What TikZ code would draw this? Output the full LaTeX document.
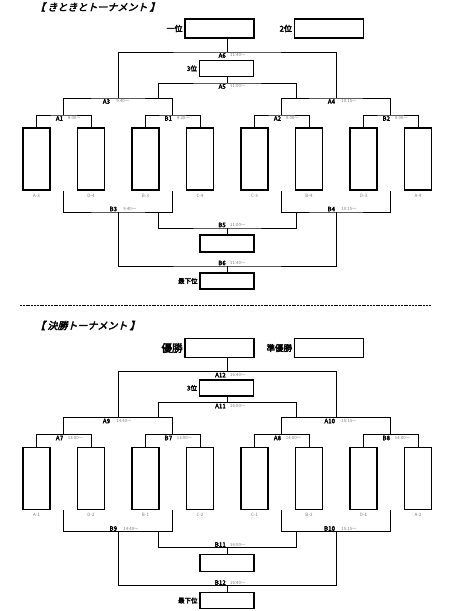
\documentclass[tikz,border=0pt]{standalone}
\usepackage{fontspec}
\setmainfont{Noto Sans CJK JP}
\newfontfamily\jpbold{Noto Sans CJK JP}[FakeBold=3]
\newfontfamily\jptitle{Noto Sans CJK JP}[FakeBold=3,FakeSlant=0.25]
\definecolor{TimeGray}{HTML}{7A7A7A}
\usetikzlibrary{positioning}
\tikzset{
  team/.style={draw, line width=1.5pt, minimum width=27pt, minimum height=62pt, inner sep=0pt},
  rank/.style={draw, line width=1.5pt, minimum width=69pt, minimum height=19pt, inner sep=0pt},
  subrank/.style={draw, line width=1.5pt, minimum width=54pt, minimum height=16pt, inner sep=0pt},
  link/.style={line width=0.7pt},
  mlab/.style={font=\jpbold\fontsize{6.2}{7}\selectfont, inner sep=0pt},
  tlab/.style={font=\fontsize{4.3}{5}\selectfont, text=TimeGray, inner sep=0pt},
  tname/.style={font=\fontsize{4.5}{5}\selectfont, text=TimeGray, inner sep=0pt},
  rlab/.style={font=\jpbold\fontsize{8}{9}\selectfont, inner sep=0pt},
  heading/.style={font=\jptitle\fontsize{10}{11}\selectfont, inner sep=0pt, anchor=west},
  separator/.style={line width=0.5pt, dash pattern=on 2pt off 0.8pt}
}

\begin{document}
\begin{tikzpicture}[x=1pt, y=-1pt]
  \useasboundingbox (0,0) rectangle (453,611);

  % --- upper bracket ---
  \node[heading] (ktitle) at (35,7) {【 きときとトーナメント 】};
  \node[rank] (kfirst) at (219.5,28.5) {};
  \node[rank] (ksecond) at (329,28.5) {};
  \node[rlab, left=1.5pt of kfirst] (kfirstl) {一位};
  \node[rlab, left=1.5pt of ksecond] (ksecondl) {2位};
  \node[subrank] (kthird) at (226.5,68.5) {};
  \node[rlab, font=\jpbold\fontsize{6.5}{7}\selectfont, left=1.5pt of kthird] (kthirdl) {3位};
  \foreach \i/\t in {1/A-3,2/D-4,3/B-3,4/C-4,5/C-3,6/B-4,7/D-3,8/A-4} {
    \node[team] (kt\i) at ({36.5+54.5*(\i-1)},159) {};
    \node[tname, below=3pt of kt\i] (kn\i) {\t};
  }
  \coordinate (ka1) at (63.75,115);
  \coordinate (kb1) at (172.75,115);
  \coordinate (ka2) at (281.75,115);
  \coordinate (kb2) at (390.75,115);
  \coordinate (ka3) at (118.25,98);
  \coordinate (ka4) at (336.25,98);
  \coordinate (ka5) at (227,83);
  \coordinate (ka6) at (227,52);
  \coordinate (kb3) at (118.25,212);
  \coordinate (kb4) at (336.25,212);
  \coordinate (kb5) at (227,228);
  \coordinate (kb6) at (227,266);
  \node[subrank, minimum height=17pt] (kfifth) at (227,243.5) {};
  \node[subrank] (klast) at (227,281) {};
  \node[rlab, font=\jpbold\fontsize{6.5}{7}\selectfont, left=1.5pt of klast] (klastl) {最下位};

  \draw[link] (kt1.north) |- (ka1) -| (kt2.north);
  \draw[link] (kt3.north) |- (kb1) -| (kt4.north);
  \draw[link] (kt5.north) |- (ka2) -| (kt6.north);
  \draw[link] (kt7.north) |- (kb2) -| (kt8.north);
  \draw[link] (ka1) |- (ka3) -| (kb1);
  \draw[link] (ka2) |- (ka4) -| (kb2);
  \draw[link] (ka3) |- (ka6) -| (ka4);
  \draw[link] (ka6) -- (kfirst.south -| ka6);
  \draw[link] ([xshift=40pt]ka3) |- (ka5) -| ([xshift=-40pt]ka4);
  \draw[link] (ka5) -- (kthird.south -| ka5);
  \draw[link] (ka1 |- kt1.south) |- (kb3) -| (kb1 |- kt1.south);
  \draw[link] (ka2 |- kt1.south) |- (kb4) -| (kb2 |- kt1.south);
  \draw[link] ([xshift=40pt]kb3) |- (kb5) -| ([xshift=-40pt]kb4);
  \draw[link] (kb5) -- (kfifth.north -| kb5);
  \draw[link] (kb3) |- (kb6) -| (kb4);
  \draw[link] (kb6) -- (klast.north -| kb6);

  \node[mlab, below left=1pt and 0.5pt of ka1] (ka1n) {A1};
  \node[tlab, below right=1.5pt and 4pt of ka1] (ka1m) {9:00〜};
  \node[mlab, below left=1pt and 0.5pt of kb1] (kb1n) {B1};
  \node[tlab, below right=1.5pt and 4pt of kb1] (kb1m) {9:20〜};
  \node[mlab, below left=1pt and 0.5pt of ka2] (ka2n) {A2};
  \node[tlab, below right=1.5pt and 4pt of ka2] (ka2m) {9:00〜};
  \node[mlab, below left=1pt and 0.5pt of kb2] (kb2n) {B2};
  \node[tlab, below right=1.5pt and 4pt of kb2] (kb2m) {9:00〜};
  \node[mlab, below left=1pt and 8pt of ka3] (ka3n) {A3};
  \node[tlab, below right=1.5pt and -2pt of ka3] (ka3m) {9:40〜};
  \node[mlab, below left=1pt and 1pt of ka4] (ka4n) {A4};
  \node[tlab, below right=1.5pt and 5pt of ka4] (ka4m) {10:15〜};
  \node[mlab, below left=1pt and 1pt of ka5] (ka5n) {A5};
  \node[tlab, below right=1.5pt and 3pt of ka5] (ka5m) {11:00〜};
  \node[mlab, below left=1pt and 1pt of ka6] (ka6n) {A6};
  \node[tlab, below right=1.5pt and 3pt of ka6] (ka6m) {11:40〜};
  \node[mlab, above left=0.5pt and 1pt of kb3] (kb3n) {B3};
  \node[tlab, above right=1pt and 5pt of kb3] (kb3m) {9:40〜};
  \node[mlab, above left=0.5pt and 1pt of kb4] (kb4n) {B4};
  \node[tlab, above right=1pt and 5pt of kb4] (kb4m) {10:15〜};
  \node[mlab, above left=0.5pt and 1pt of kb5] (kb5n) {B5};
  \node[tlab, above right=1pt and 3pt of kb5] (kb5m) {11:00〜};
  \node[mlab, above left=0.5pt and 1pt of kb6] (kb6n) {B6};
  \node[tlab, above right=1pt and 3pt of kb6] (kb6m) {11:40〜};

  % --- separator ---
  \coordinate (sepl) at (20,305);
  \coordinate (sepr) at (431,305);
  \draw[separator] (sepl) -- (sepr);

  % --- final bracket ---
  \begin{scope}[yshift=-319.5pt]
  \node[heading] (ftitle) at (35,6) {【 決勝トーナメント 】};
  \node[rank] (ffirst) at (219.5,28.5) {};
  \node[rank] (fsecond) at (329,28.5) {};
  \node[rlab, font=\jpbold\fontsize{10.5}{11}\selectfont, left=1.5pt of ffirst] (ffirstl) {優勝};
  \node[rlab, font=\jpbold\fontsize{8.5}{9}\selectfont, left=1.5pt of fsecond] (fsecondl) {準優勝};
  \node[subrank] (fthird) at (226.5,68.5) {};
  \node[rlab, font=\jpbold\fontsize{6.5}{7}\selectfont, left=1.5pt of fthird] (fthirdl) {3位};
  \foreach \i/\t in {1/A-1,2/D-2,3/B-1,4/C-2,5/C-1,6/B-2,7/D-1,8/A-2} {
    \node[team] (ft\i) at ({36.5+54.5*(\i-1)},159) {};
    \node[tname, below=3pt of ft\i] (fn\i) {\t};
  }
  \coordinate (fa1) at (63.75,115);
  \coordinate (fb1) at (172.75,115);
  \coordinate (fa2) at (281.75,115);
  \coordinate (fb2) at (390.75,115);
  \coordinate (fa3) at (118.25,98);
  \coordinate (fa4) at (336.25,98);
  \coordinate (fa5) at (227,83);
  \coordinate (fa6) at (227,52);
  \coordinate (fb3) at (118.25,212);
  \coordinate (fb4) at (336.25,212);
  \coordinate (fb5) at (227,228);
  \coordinate (fb6) at (227,266);
  \node[subrank, minimum height=17pt] (ffifth) at (227,243.5) {};
  \node[subrank] (flast) at (227,281) {};
  \node[rlab, font=\jpbold\fontsize{6.5}{7}\selectfont, left=1.5pt of flast] (flastl) {最下位};

  \draw[link] (ft1.north) |- (fa1) -| (ft2.north);
  \draw[link] (ft3.north) |- (fb1) -| (ft4.north);
  \draw[link] (ft5.north) |- (fa2) -| (ft6.north);
  \draw[link] (ft7.north) |- (fb2) -| (ft8.north);
  \draw[link] (fa1) |- (fa3) -| (fb1);
  \draw[link] (fa2) |- (fa4) -| (fb2);
  \draw[link] (fa3) |- (fa6) -| (fa4);
  \draw[link] (fa6) -- (ffirst.south -| fa6);
  \draw[link] ([xshift=40pt]fa3) |- (fa5) -| ([xshift=-40pt]fa4);
  \draw[link] (fa5) -- (fthird.south -| fa5);
  \draw[link] (fa1 |- ft1.south) |- (fb3) -| (fb1 |- ft1.south);
  \draw[link] (fa2 |- ft1.south) |- (fb4) -| (fb2 |- ft1.south);
  \draw[link] ([xshift=40pt]fb3) |- (fb5) -| ([xshift=-40pt]fb4);
  \draw[link] (fb5) -- (ffifth.north -| fb5);
  \draw[link] (fb3) |- (fb6) -| (fb4);
  \draw[link] (fb6) -- (flast.north -| fb6);

  \node[mlab, below left=1pt and 0.5pt of fa1] (fa1n) {A7};
  \node[tlab, below right=1.5pt and 4pt of fa1] (fa1m) {13:00〜};
  \node[mlab, below left=1pt and 0.5pt of fb1] (fb1n) {B7};
  \node[tlab, below right=1.5pt and 4pt of fb1] (fb1m) {13:00〜};
  \node[mlab, below left=1pt and 0.5pt of fa2] (fa2n) {A8};
  \node[tlab, below right=1.5pt and 4pt of fa2] (fa2m) {14:00〜};
  \node[mlab, below left=1pt and 0.5pt of fb2] (fb2n) {B8};
  \node[tlab, below right=1.5pt and 4pt of fb2] (fb2m) {14:00〜};
  \node[mlab, below left=1pt and 8pt of fa3] (fa3n) {A9};
  \node[tlab, below right=1.5pt and -2pt of fa3] (fa3m) {14:40〜};
  \node[mlab, below left=1pt and 1pt of fa4] (fa4n) {A10};
  \node[tlab, below right=1.5pt and 5pt of fa4] (fa4m) {15:15〜};
  \node[mlab, below left=1pt and 1pt of fa5] (fa5n) {A11};
  \node[tlab, below right=1.5pt and 3pt of fa5] (fa5m) {16:00〜};
  \node[mlab, below left=1pt and 1pt of fa6] (fa6n) {A12};
  \node[tlab, below right=1.5pt and 3pt of fa6] (fa6m) {16:40〜};
  \node[mlab, above left=0.5pt and 1pt of fb3] (fb3n) {B9};
  \node[tlab, above right=1pt and 5pt of fb3] (fb3m) {14:40〜};
  \node[mlab, above left=0.5pt and 1pt of fb4] (fb4n) {B10};
  \node[tlab, above right=1pt and 5pt of fb4] (fb4m) {15:15〜};
  \node[mlab, above left=0.5pt and 1pt of fb5] (fb5n) {B11};
  \node[tlab, above right=1pt and 3pt of fb5] (fb5m) {16:00〜};
  \node[mlab, above left=0.5pt and 1pt of fb6] (fb6n) {B12};
  \node[tlab, above right=1pt and 3pt of fb6] (fb6m) {16:40〜};
  \end{scope}
\end{tikzpicture}
\end{document}
